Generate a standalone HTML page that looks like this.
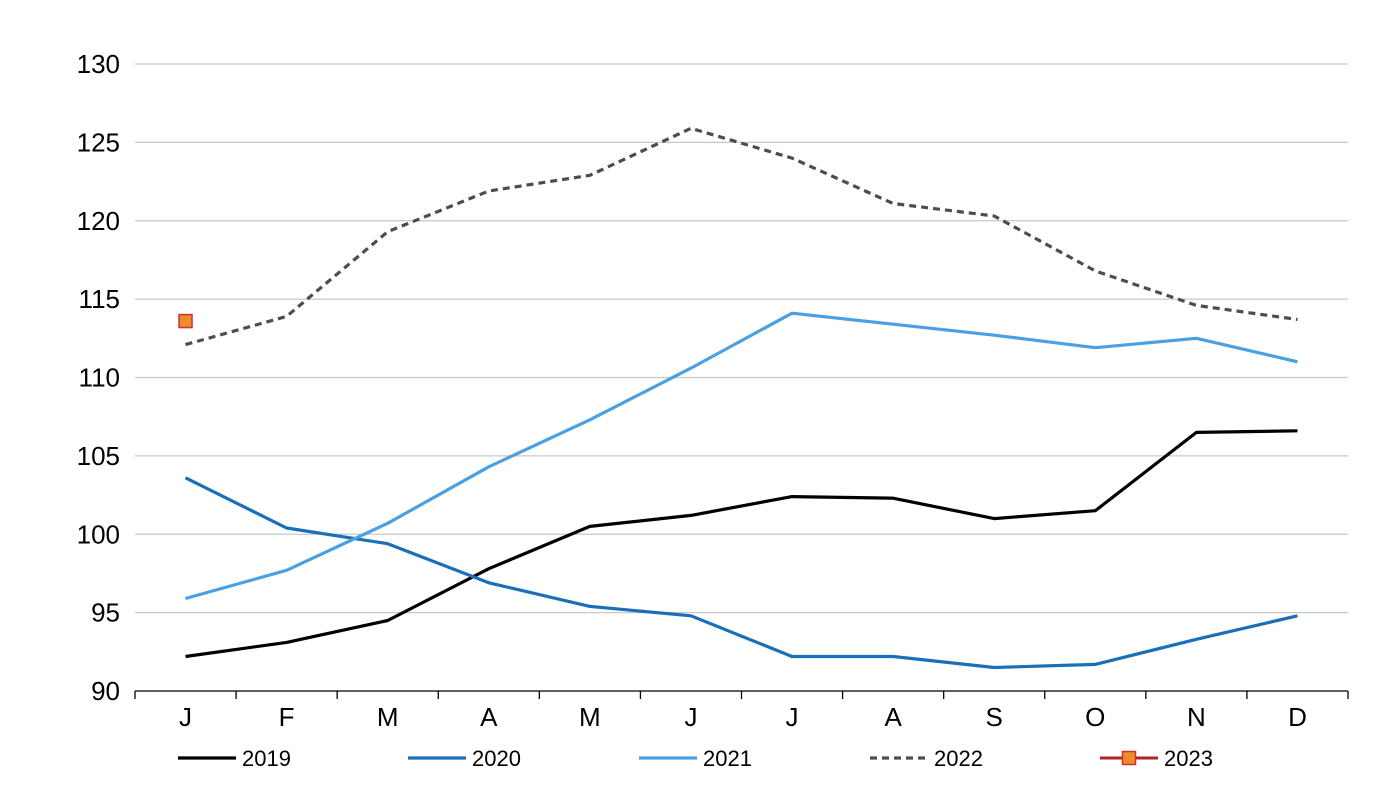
<!DOCTYPE html>
<html><head><meta charset="utf-8"><style>
html,body{margin:0;padding:0;background:#fff;}
svg{display:block;font-family:"Liberation Sans",Arial,sans-serif;}
</style></head><body>
<svg id="chart" width="1400" height="788" viewBox="0 0 1400 788" xmlns="http://www.w3.org/2000/svg">
<g id="grid"></g>
<g id="yaxis"></g>
<g id="xaxis"></g>
<g id="series"></g>
<g id="legend"></g>
</svg>
<script>
const categories = ["J","F","M","A","M","J","J","A","S","O","N","D"];
const yTicks = [90,95,100,105,110,115,120,125,130];
const s2019 = [92.2,93.1,94.5,97.8,100.5,101.2,102.4,102.3,101.0,101.5,106.5,106.6];
const s2020 = [103.6,100.4,99.4,96.9,95.4,94.8,92.2,92.2,91.5,91.7,93.3,94.8];
const s2021 = [95.9,97.7,100.7,104.3,107.3,110.6,114.1,113.4,112.7,111.9,112.5,111.0];
const s2022 = [112.1,113.9,119.3,121.9,122.9,125.9,124.0,121.1,120.3,116.8,114.6,113.7];
const s2023 = [113.6];
const seriesNames = ["2019","2020","2021","2022","2023"];

const NS = "http://www.w3.org/2000/svg";
const X0 = 135, X1 = 1348, Y0 = 691, Y1 = 64, YMIN = 90, YMAX = 130;
const band = (X1 - X0) / categories.length;
function xs(i){ return X0 + band * (i + 0.5); }
function ys(v){ return Y0 - (v - YMIN) / (YMAX - YMIN) * (Y0 - Y1); }
function mk(tag, attrs, parent){
  const e = document.createElementNS(NS, tag);
  for (const k in attrs) e.setAttribute(k, attrs[k]);
  parent.appendChild(e); return e;
}
const grid = document.getElementById('grid'), yaxis = document.getElementById('yaxis'),
      xaxis = document.getElementById('xaxis'), series = document.getElementById('series'),
      legend = document.getElementById('legend');

yTicks.forEach(t => {
  if (t !== YMIN) {
    const l = mk('line', {x1:X0, x2:X1, y1:ys(t), y2:ys(t), stroke:'#c8c8c8', 'stroke-width':1.3}, grid);
    
    
  }
  const tx = mk('text', {x:120, y:ys(t)+9, 'text-anchor':'end', 'font-size':26, fill:'#000'}, yaxis);
  tx.textContent = t;
  
  
});

const ax = mk('line', {x1:X0, x2:X1, y1:Y0, y2:Y0, stroke:'#000', 'stroke-width':1.3}, xaxis);


for (let i = 0; i <= categories.length; i++) {
  const x = X0 + band * i;
  const tk = mk('line', {x1:x, x2:x, y1:Y0, y2:Y0+8, stroke:'#000', 'stroke-width':1.3}, xaxis);
  
  
}
categories.forEach((c, i) => {
  const tx = mk('text', {x:xs(i), y:726, 'text-anchor':'middle', 'font-size':26, fill:'#000'}, xaxis);
  tx.textContent = c;
  
  
});

const styles = [
  {data:s2019, color:'#000000', dash:null},
  {data:s2020, color:'#1a6fb8', dash:null},
  {data:s2021, color:'#4aa0e2', dash:null},
  {data:s2022, color:'#4d4d4d', dash:'7,5'}
];
styles.forEach((s, k) => {
  const pts = s.data.map((v, i) => xs(i).toFixed(1) + ',' + ys(v).toFixed(1)).join(' ');
  const attrs = {points:pts, fill:'none', stroke:s.color, 'stroke-width':3.2, 'stroke-linejoin':'round'};
  if (s.dash) attrs['stroke-dasharray'] = s.dash;
  const p = mk('polyline', attrs, series);
  
  
});
s2023.forEach((v, i) => {
  const r = mk('rect', {x:xs(i)-6.5, y:ys(v)-6.5, width:13, height:13, fill:'#f08a2c', stroke:'#c0392b', 'stroke-width':1.5}, series);
  
  
});

const lx = [178, 408, 639, 870, 1100];
seriesNames.forEach((n, k) => {
  const g = mk('g', {}, legend);
  
  
  let attrs;
  if (k < 4) {
    attrs = {x1:lx[k], x2:lx[k]+58, y1:758, y2:758, stroke:styles[k].color, 'stroke-width':3.2};
    if (styles[k].dash) attrs['stroke-dasharray'] = styles[k].dash;
  } else {
    attrs = {x1:lx[k], x2:lx[k]+58, y1:758, y2:758, stroke:'#b22222', 'stroke-width':3};
  }
  mk('line', attrs, g);
  if (k === 4) mk('rect', {x:lx[k]+22.5, y:751.5, width:13, height:13, fill:'#f08a2c', stroke:'#c0392b', 'stroke-width':1.5}, g);
  const t = mk('text', {x:lx[k]+64, y:766, 'font-size':22, fill:'#000'}, g);
  t.textContent = n;
});
</script>
</body></html>
